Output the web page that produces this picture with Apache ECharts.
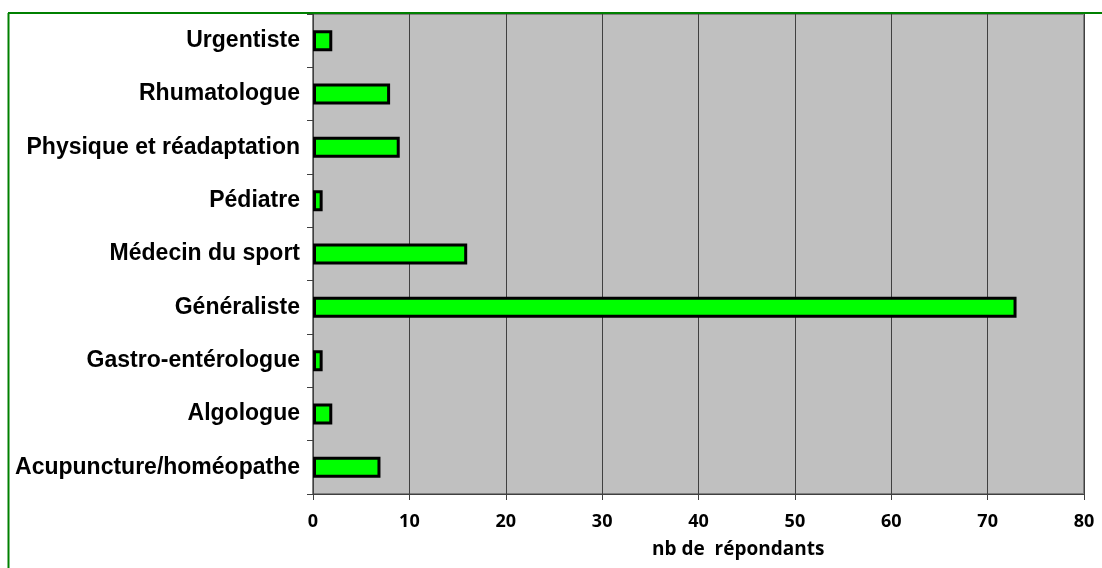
<!DOCTYPE html>
<html>
<head>
<meta charset="utf-8">
<script src="https://cdn.jsdelivr.net/npm/echarts@6/dist/echarts.min.js"></script>
<style>
  html, body { margin: 0; padding: 0; background: #ffffff; }
  #chart { width: 1102px; height: 568px; }
</style>
</head>
<body>
<div id="chart"></div>
<script>
// Specialties (bottom to top) and number of respondents for each
const categories = [
  'Acupuncture/homéopathe',
  'Algologue',
  'Gastro-entérologue',
  'Généraliste',
  'Médecin du sport',
  'Pédiatre',
  'Physique et réadaptation',
  'Rhumatologue',
  'Urgentiste'
];
const respondents = [7, 2, 1, 73, 16, 1, 9, 8, 2];
const axisTitle = 'nb de  répondants';

const chart = echarts.init(document.getElementById('chart'), null, { renderer: 'canvas' });

chart.setOption({
  animation: false,
  backgroundColor: '#ffffff',
  grid: {
    left: 313, right: 18, top: 14, bottom: 74,
    show: true,
    backgroundColor: '#C0C0C0',
    borderColor: '#808080',
    borderWidth: 2
  },
  xAxis: {
    type: 'value',
    min: 0, max: 80, interval: 10,
    axisLine: { show: true, lineStyle: { color: '#404040', width: 1 } },
    axisTick: { show: true, length: 6, lineStyle: { color: '#404040' } },
    splitLine: { show: true, lineStyle: { color: '#404040', width: 1 } },
    axisLabel: {
      margin: 19,
      color: '#000',
      fontFamily: '"Open Sans", sans-serif',
      fontWeight: 'bold',
      fontSize: 18
    }
  },
  yAxis: {
    type: 'category',
    data: categories,
    axisLine: { show: true, lineStyle: { color: '#404040', width: 1 } },
    axisTick: { show: true, length: 6, lineStyle: { color: '#404040' } },
    axisLabel: {
      margin: 13,
      color: '#000',
      fontFamily: '"Liberation Sans", Arial, sans-serif',
      fontWeight: 'bold',
      fontSize: 23
    }
  },
  series: [{
    type: 'bar',
    data: respondents,
    barWidth: 21,
    itemStyle: { color: '#00FF00', borderColor: '#000000', borderWidth: 3 }
  }],
  graphic: [
    // outer frame: green rule along the top and left
    { type: 'line', shape: { x1: 8, y1: 13, x2: 1102, y2: 13 }, style: { stroke: '#008000', lineWidth: 2 }, z: 100 },
    { type: 'line', shape: { x1: 8.5, y1: 13, x2: 8.5, y2: 568 }, style: { stroke: '#008000', lineWidth: 2 }, z: 100 },
    {
      type: 'text', left: 652, top: 540,
      style: {
        text: axisTitle,
        fill: '#000',
        font: 'bold 19px "Open Sans", sans-serif'
      }
    }
  ]
});
</script>
</body>
</html>
